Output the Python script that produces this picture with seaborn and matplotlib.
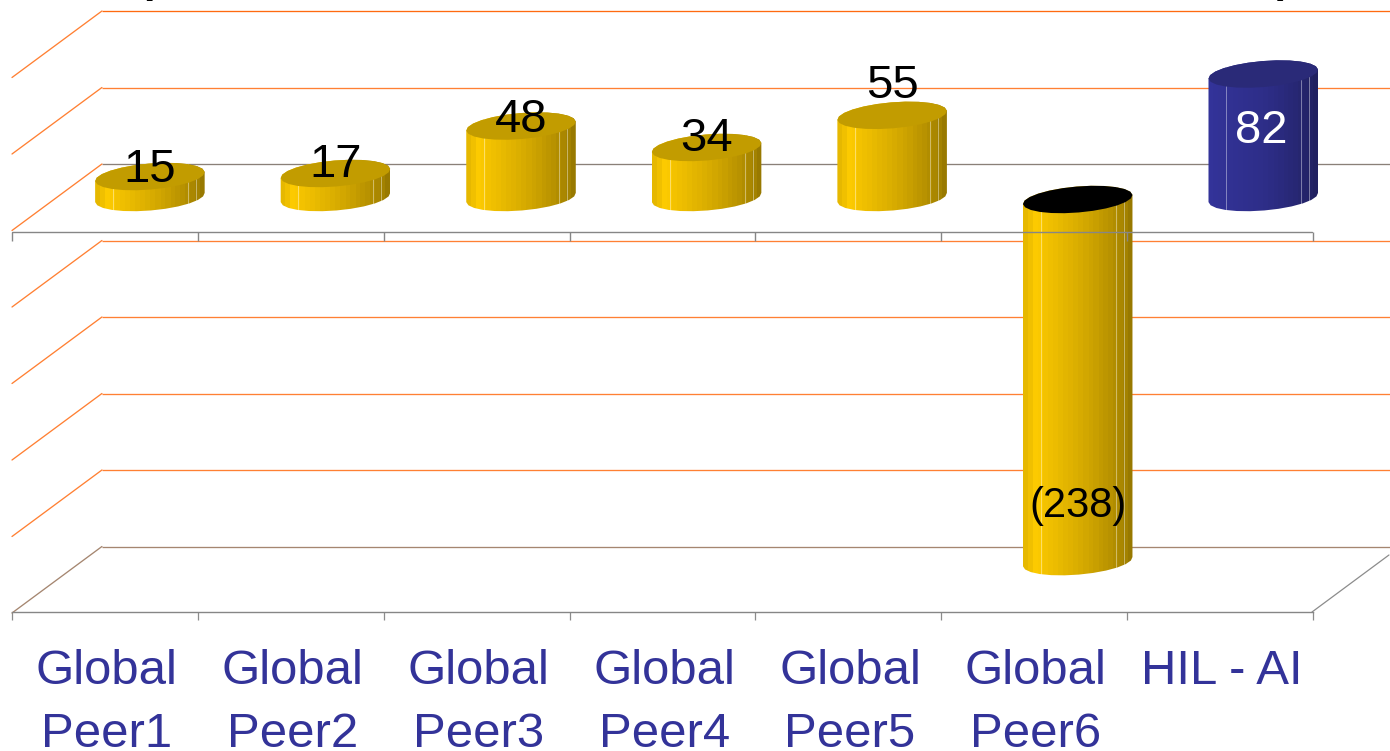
import numpy as np
import pandas as pd
import matplotlib
matplotlib.use("Agg")
import matplotlib.pyplot as plt
from matplotlib.colors import LinearSegmentedColormap
from matplotlib.patches import Polygon
import seaborn as sns

# ---- data ----
categories = ["Global\nPeer1", "Global\nPeer2", "Global\nPeer3", "Global\nPeer4",
              "Global\nPeer5", "Global\nPeer6", "HIL - AI"]
values = [15, 17, 48, 34, 55, -238, 82]
value_labels = ["15", "17", "48", "34", "55", "(238)", "82"]
label_y = [19, 22.5, 52, 39.5, 74, -200, 45]
wall_levels = [100, 50, 0, -50, -100, -150, -200, -250]

W, H = 1390, 751
sns.set_theme(style="white")
plt.rcParams["font.family"] = ["Liberation Sans", "DejaVu Sans"]

fig = plt.figure(figsize=(W / 100, H / 100), dpi=100, facecolor="white")
ax = fig.add_axes([12 / W, (H - 612) / H, (1313 - 12) / W, 612 / H])

PX_X, PX_Y = 185.7, 1.53           # pixels per category / per value unit
XL = (12 - 150) / PX_X
XR = (1313 - 150) / PX_X
YB, YT = (199.5 - 612) / PX_Y, 199.5 / PX_Y
DEPTH_X, DEPTH_Y = 90 / PX_X, 66.5 / PX_Y
WALL_SHIFT = (199.5 - 164) / PX_Y
FRONT_ZERO = (199.5 - 231.5) / PX_Y

YEL, BLU = "#C9A000", "#2A2A80"
bar_colors = [YEL] * 6 + [BLU]
df = pd.DataFrame({"company": categories, "value": values})
sns.barplot(data=df, x="company", y="value", hue="company", palette=bar_colors,
            order=categories, hue_order=categories, width=0.5, legend=False,
            dodge=False, saturation=1, ax=ax, zorder=2, linewidth=0)

yellow_cm = LinearSegmentedColormap.from_list("y", [(0, "#E6B800"), (0.1, "#FFCC00"), (0.18, "#F4C300"),
                                                     (0.5, "#D8AC00"), (0.8, "#B59000"), (0.93, "#A08000"), (1, "#8C7000")])
blue_cm = LinearSegmentedColormap.from_list("b", [(0, "#333399"), (0.5, "#2E2E88"), (0.8, "#272772"), (1, "#1F1F5C")])


def ellipse(cx, cy, t):
    a, b, th = 55.0, 13.0, np.deg2rad(4.8)
    px = a * np.cos(t) * np.cos(th) - b * np.sin(t) * np.sin(th)
    py = a * np.cos(t) * np.sin(th) + b * np.sin(t) * np.cos(th)
    return cx + px / PX_X, cy + py / PX_Y


rects = sorted(ax.patches, key=lambda r: r.get_x())
for rect, val in zip(rects, values):
    cx = rect.get_x() + rect.get_width() / 2
    top = max(rect.get_y(), rect.get_y() + rect.get_height())
    bot = min(rect.get_y(), rect.get_y() + rect.get_height())
    is_blue = val == values[-1]
    t_hi = np.linspace(0, np.pi, 13)
    t_lo = np.linspace(np.pi, 2 * np.pi, 13)
    xh, yh = ellipse(cx, top, t_hi)
    xl, yl = ellipse(cx, bot + 2 / PX_Y, t_lo)
    body = Polygon(np.c_[np.r_[xh, xl], np.r_[yh, yl]], closed=True, transform=ax.transData,
                   facecolor="none", edgecolor="none")
    ax.add_patch(body)
    # stepped side shading, with thin pale seams
    n = 110
    steps = np.floor(np.linspace(0, 1, n, endpoint=False) * 22) / 22
    cmap = blue_cm if is_blue else yellow_cm
    rgb = cmap(steps)[:, :3]
    for f in (0.165, 0.85, 0.925):
        k = int(f * n)
        rgb[k] = rgb[k] * 0.6 + 0.4
    img = ax.imshow(rgb[np.newaxis, :, :], aspect="auto", interpolation="nearest", zorder=3,
                    extent=(cx - 55 / PX_X, cx + 55 / PX_X, bot - 20, top + 20))
    img.set_clip_path(body)
    img.set_clip_box(fig.bbox)
    xc, yc = ellipse(cx, top, np.linspace(0, 2 * np.pi, 25))
    cap = "#000000" if val < 0 else ("#2A2A78" if is_blue else "#C29C00")
    ax.fill(xc, yc, color=cap, lw=0, zorder=4, clip_on=False)

# back wall and side wall lines
ORANGE = "#FF8033"
x_end = (1395 - 150) / PX_X
back_x = XL + DEPTH_X
for lvl in wall_levels:
    y_b = lvl + WALL_SHIFT
    wall_col = "#FF6A10" if lvl == 100 else "#8A8078" if lvl == 0 else "#A58670" if lvl == -250 else ORANGE
    side_col = "#A58670" if lvl == -250 else ORANGE
    ax.plot([back_x, x_end], [y_b, y_b], color=wall_col, lw=0.95, clip_on=False, zorder=1, solid_capstyle="butt")
    ax.plot([XL, back_x], [y_b - DEPTH_Y, y_b], color=side_col, lw=0.95, clip_on=False, zorder=1)

# right floor edge
ax.plot([XR, (1390 - 150) / PX_X], [YB, YB + 57 / PX_Y], color="#8C8C8C", lw=0.9, clip_on=False, zorder=1)

# zero axis on the front plane, in front of the columns
edges = [XL + i * 1.0016 for i in range(8)]
ax.plot([XL, XR], [FRONT_ZERO, FRONT_ZERO], color="#868686", lw=1.0, zorder=5)
ax.vlines(edges, FRONT_ZERO - 9 / PX_Y, FRONT_ZERO, color="#868686", lw=1.0, zorder=5, clip_on=False)

# value labels
for i, (txt, y) in enumerate(zip(value_labels, label_y)):
    dx = {6: -2 / PX_X}.get(i, 0.0)
    ax.text(i + dx, y, txt, ha="center", va="center", zorder=6,
            fontsize=30 if i == 5 else 34, color="white" if i == 6 else "black")

# cropped title brackets at the top edge
ax.text((146 - 150) / PX_X, YT - 1 / PX_Y, "(", ha="center", va="bottom", fontsize=30,
        fontweight="bold", color="black", clip_on=False)
ax.text((1285 - 150) / PX_X, YT - 1 / PX_Y, ")", ha="center", va="bottom", fontsize=30,
        fontweight="bold", color="black", clip_on=False)

# axis
ax.set_xlim(XL, XR)
ax.set_ylim(YB, YT)
ax.set_xlabel("")
ax.set_ylabel("")
ax.set_yticks([])
ax.set_xticks(edges)
ax.set_xticklabels([""] * 8)
ax.set_xticks([XL + 0.51 + i * 1.0016 for i in range(7)], minor=True)
ax.set_xticklabels(categories, minor=True, fontsize=35.4, color="#333399", linespacing=1.5)
ax.tick_params(axis="x", which="major", length=6, width=0.9, color="#8C8C8C", bottom=True)
ax.tick_params(axis="x", which="minor", length=0, pad=27, bottom=False)
for s in ("top", "left", "right"):
    ax.spines[s].set_visible(False)
ax.spines["bottom"].set_color("#868686")
ax.spines["bottom"].set_linewidth(1.0)
ax.patch.set_alpha(0)

fig.savefig("out.png", dpi=100, facecolor="white")
